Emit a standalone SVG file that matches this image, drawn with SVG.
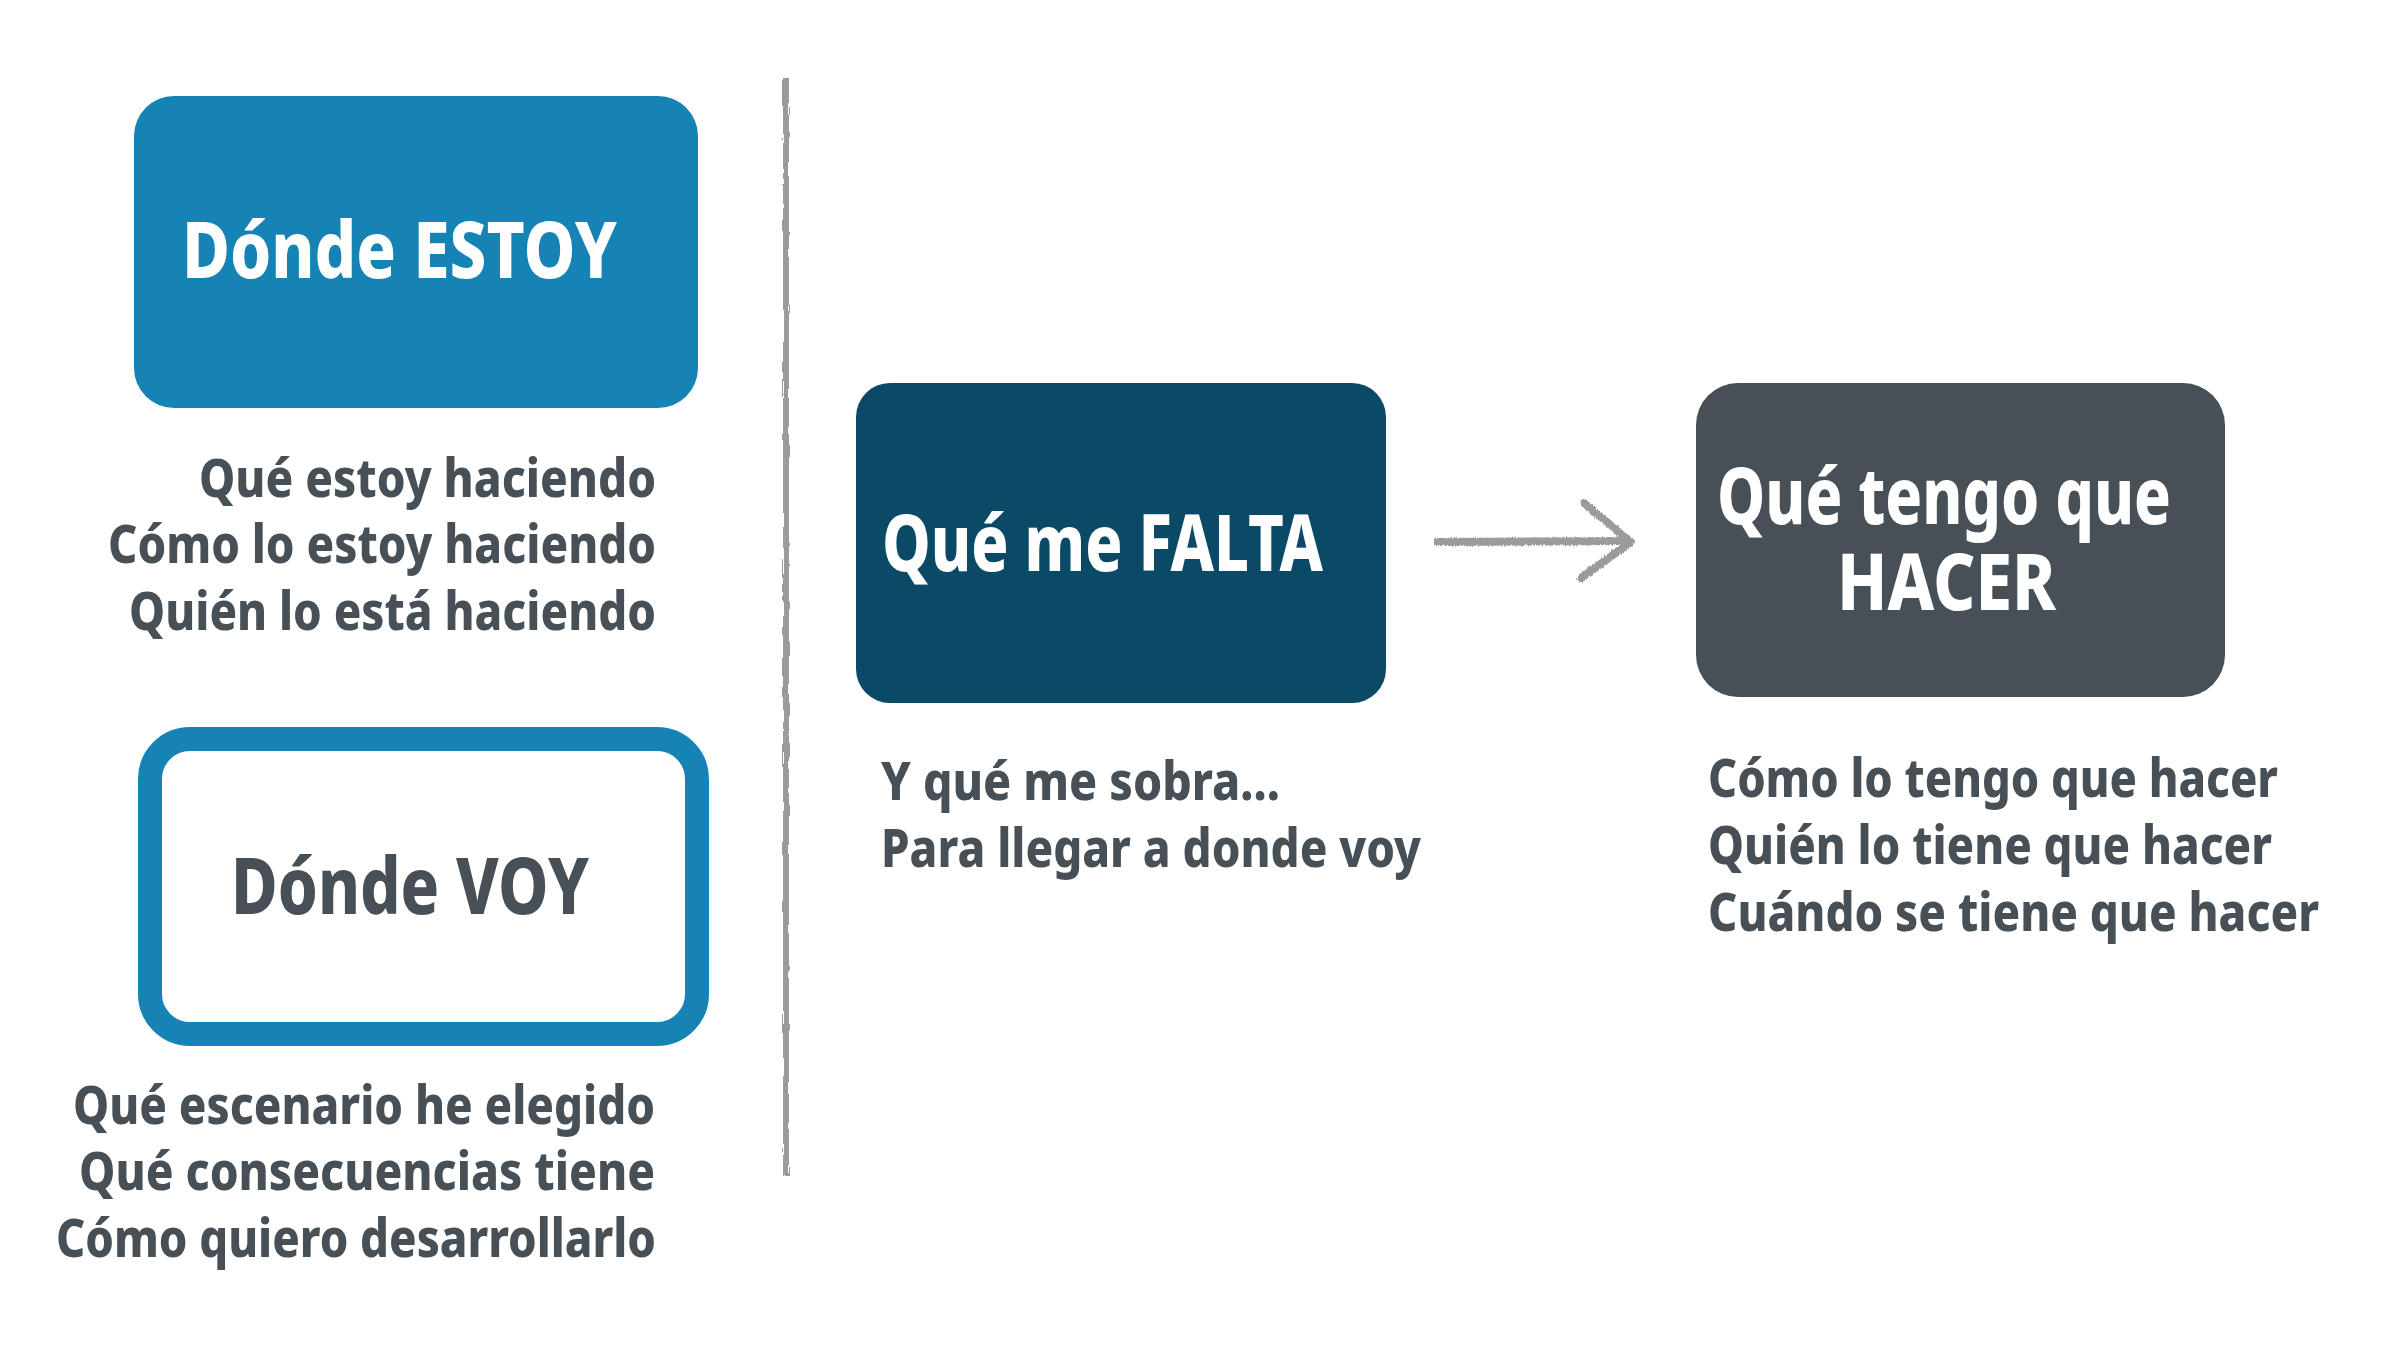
<svg xmlns="http://www.w3.org/2000/svg" width="2381" height="1357" viewBox="0 0 2381 1357">
<style>
  .t { font-family: "Noto Sans", "Open Sans", "Liberation Sans", sans-serif; font-weight: 800; }
  .title { font-size: 78px; }
  .sub { font-size: 54px; fill: #474f57; }
  .w { fill: #ffffff; }
  .d { fill: #474f57; }
</style>
<defs>
  <filter id="rough" filterUnits="userSpaceOnUse" x="0" y="0" width="2381" height="1357">
    <feTurbulence type="fractalNoise" baseFrequency="0.9 0.05" numOctaves="2" seed="3" result="n"/>
    <feDisplacementMap in="SourceGraphic" in2="n" scale="4" xChannelSelector="R" yChannelSelector="G"/>
  </filter>
</defs>
<rect width="2381" height="1357" fill="#ffffff"/>

<g id="divider">
  <rect x="783" y="78" width="6" height="1098" fill="#9b9b9b" filter="url(#rough)"/>
</g>

<g id="node-donde-estoy">
  <rect x="134" y="96" width="564" height="312" rx="40" fill="#1683b5"/>
  <text class="t title w" x="182" y="278" textLength="435" lengthAdjust="spacingAndGlyphs">Dónde ESTOY</text>
  <text class="t sub" x="656" y="497" text-anchor="end" textLength="457" lengthAdjust="spacingAndGlyphs">Qué estoy haciendo</text>
  <text class="t sub" x="656" y="563" text-anchor="end" textLength="548" lengthAdjust="spacingAndGlyphs">Cómo lo estoy haciendo</text>
  <text class="t sub" x="656" y="630" text-anchor="end" textLength="527" lengthAdjust="spacingAndGlyphs">Quién lo está haciendo</text>
</g>

<g id="node-donde-voy">
  <rect x="150" y="739" width="547" height="295" rx="40" fill="#ffffff" stroke="#1683b5" stroke-width="24"/>
  <text class="t title d" x="231" y="914" textLength="358" lengthAdjust="spacingAndGlyphs">Dónde VOY</text>
  <text class="t sub" x="655" y="1124" text-anchor="end" textLength="582" lengthAdjust="spacingAndGlyphs">Qué escenario he elegido</text>
  <text class="t sub" x="655" y="1190" text-anchor="end" textLength="576" lengthAdjust="spacingAndGlyphs">Qué consecuencias tiene</text>
  <text class="t sub" x="656" y="1257" text-anchor="end" textLength="600" lengthAdjust="spacingAndGlyphs">Cómo quiero desarrollarlo</text>
</g>

<g id="node-que-me-falta">
  <rect x="856" y="383" width="530" height="320" rx="34" fill="#0a4a67"/>
  <text class="t title w" x="882" y="571" textLength="441" lengthAdjust="spacingAndGlyphs">Qué me FALTA</text>
  <text class="t sub" x="881" y="800" textLength="399" lengthAdjust="spacingAndGlyphs">Y qué me sobra...</text>
  <text class="t sub" x="881" y="867" textLength="540" lengthAdjust="spacingAndGlyphs">Para llegar a donde voy</text>
</g>

<g id="node-que-tengo-que-hacer">
  <rect x="1696" y="383" width="529" height="314" rx="42" fill="#474f57"/>
  <text class="t title w" x="1717" y="524" textLength="454" lengthAdjust="spacingAndGlyphs">Qué tengo que</text>
  <text class="t title w" x="1837" y="610" textLength="219" lengthAdjust="spacingAndGlyphs">HACER</text>
  <text class="t sub" x="1708" y="797" textLength="570" lengthAdjust="spacingAndGlyphs">Cómo lo tengo que hacer</text>
  <text class="t sub" x="1708" y="864" textLength="564" lengthAdjust="spacingAndGlyphs">Quién lo tiene que hacer</text>
  <text class="t sub" x="1708" y="931" textLength="611" lengthAdjust="spacingAndGlyphs">Cuándo se tiene que hacer</text>
</g>

<g id="connectors">
  <g stroke="#9b9b9b" fill="none" stroke-linecap="round" stroke-linejoin="round" filter="url(#rough)">
    <path d="M1437 542 L1628 541" stroke-width="8"/>
    <path d="M1584 503 L1631 542 L1581 578" stroke-width="8"/>
  </g>
</g>
</svg>
